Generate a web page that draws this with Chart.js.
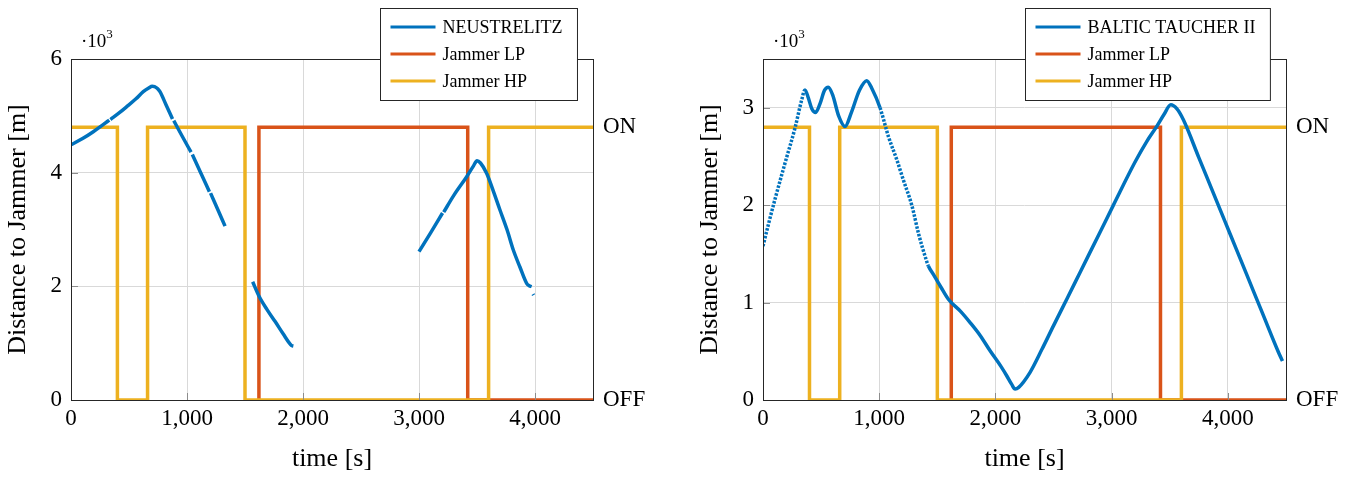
<!DOCTYPE html>
<html>
<head>
<meta charset="utf-8">
<title>Distance to Jammer</title>
<script src="https://cdn.jsdelivr.net/npm/chart.js@4.4.1/dist/chart.umd.min.js"></script>
<style>
  body { margin: 0; background: #fff; }
  canvas { position: absolute; top: 0; }
</style>
</head>
<body>
<canvas id="leftChart" width="680" height="477" style="left:0"></canvas>
<canvas id="rightChart" width="669" height="477" style="left:680px"></canvas>
<script>
// ===== DATA =====
const timeTicks = [0, 1000, 2000, 3000, 4000];
const leftYTicks = [0, 2000, 4000, 6000];
const rightYTicks = [0, 1000, 2000, 3000];

// jammer switching, 1 = ON, 0 = OFF
const hpTime  = [0, 400, 400, 660, 660, 1500, 1500, 3600, 3600, 4500];
const hpState = [1, 1, 0, 0, 1, 1, 0, 0, 1, 1];
const lpTime  = [1620, 1620, 3420, 3420, 4500];
const lpState = [0, 1, 1, 0, 0];

// NEUSTRELITZ (null = no fix)
const neuTime = [0, 100, 192, 280, 330, 335, 340, 420, 480, 560, 623, 670, 700, 720, 745, 767, 820, 875, 880,
  886, 960, 1035, 1040, 1046, 1120, 1193, 1198, 1203, 1270, 1328, 1400,
  1566, 1620, 1690, 1760, 1830, 1895, 1905, 1917, 2500,
  3000, 3100, 3203, 3208, 3213, 3300, 3411, 3470, 3500, 3530, 3583, 3640, 3698, 3760, 3813, 3870, 3928, 3950, 3971, 3978,
  3983, 3988];
const neuDist = [4490, 4600, 4721, 4850, 4925, null, 4935, 5060, 5161, 5300, 5425, 5490, 5520, 5515, 5480, 5425, 5190, 4945, null,
  4915, 4636, 4360, null, 4320, 3990, 3665, null, 3640, 3330, 3060, null,
  2080, 1830, 1590, 1380, 1160, 970, 955, 950, null,
  2610, 2940, 3290, null, 3305, 3600, 3929, 4120, 4210, 4170, 3989, 3680, 3343, 2990, 2639, 2340, 2053, 2010, 1994, null,
  1862, 1845];
const neuOn = 4800;

// BALTIC TAUCHER II
const baltTime = [0, 46, 103, 189, 275, 333, 361, 390, 420, 453, 490, 530, 562, 600, 650, 706, 760, 830, 892, 940,
  1007, 1079, 1150, 1210, 1280, 1340, 1394, 1423, 1466, 1530, 1595, 1700, 1782, 1870, 1954, 2050, 2097, 2140, 2169,
  2200, 2298, 2400, 2499, 2620, 2731, 2903, 3015, 3200, 3300, 3388, 3450, 3509, 3560, 3617, 3750, 3876, 4020, 4164, 4300,
  4436, 4470];
const baltDist = [1579, 1800, 2060, 2430, 2790, 3081, 3183, 3100, 2990, 2951, 3040, 3180, 3211, 3130, 2920, 2808, 2950, 3180, 3278, 3190,
  3000, 2705, 2470, 2250, 2000, 1700, 1477, 1375, 1290, 1160, 1034, 910, 795, 660, 505, 340, 249, 160, 113,
  130, 284, 520, 761, 1050, 1317, 1730, 2000, 2440, 2650, 2808, 2930, 3030, 2990, 2876, 2488, 2121, 1701, 1281, 884,
  488, 400];
const baltOn = 2800;

// ===== STYLE =====
const BLUE = "#0072BD", RED = "#D95319", YELLOW = "#EDB120";
const serif = '"Liberation Serif", "Times New Roman", serif';
const tickFont = { family: serif, size: 23 };
const titleFont = { family: serif, size: 26 };
const gridColor = "#d9d9d9";

Chart.defaults.color = "#000";
Chart.defaults.font.family = serif;

// ===== HELPERS =====
function toPoints(times, vals, scale) {
  return times.map((t, i) => ({ x: t, y: vals[i] === null ? null : vals[i] * (scale || 1) }));
}

// box, inner ticks, ·10^3 and boxed legend
const framePlugin = {
  id: "frame",
  afterDraw(chart) {
    const { ctx, chartArea: a } = chart;
    ctx.save();

    // inner tick marks
    ctx.strokeStyle = "#8c8c8c";
    ctx.lineWidth = 1;
    chart.scales.x.ticks.forEach(t => {
      const px = Math.round(chart.scales.x.getPixelForValue(t.value)) + 0.5;
      ctx.beginPath(); ctx.moveTo(px, a.bottom); ctx.lineTo(px, a.bottom - 7); ctx.stroke();
    });
    chart.scales.y.ticks.forEach(t => {
      const py = Math.round(chart.scales.y.getPixelForValue(t.value)) + 0.5;
      ctx.beginPath(); ctx.moveTo(a.left, py); ctx.lineTo(a.left + 7, py); ctx.stroke();
    });

    ctx.strokeStyle = "#262626";
    ctx.strokeRect(Math.round(a.left) + 0.5, Math.round(a.top) + 0.5,
      Math.round(a.right - a.left), Math.round(a.bottom - a.top));

    // multiplier
    ctx.fillStyle = "#000";
    ctx.textBaseline = "alphabetic";
    ctx.font = "19px " + serif;
    ctx.fillText("\u00b710", a.left + 10, 47);
    const mw = ctx.measureText("\u00b710").width;
    ctx.font = "13px " + serif;
    ctx.fillText("3", a.left + 10 + mw, 38);

    // legend
    const items = chart.data.datasets.map(d => ({ label: d.label, color: d.borderColor }));
    ctx.font = "18px " + serif;
    const tw = Math.max(...items.map(it => ctx.measureText(it.label).width));
    const w = 62 + tw + 15;
    const x0 = Math.round(a.right - 16 - w) + 0.5;
    const y0 = 8.5, h = 92;
    ctx.fillStyle = "#fff";
    ctx.fillRect(x0, y0, w, h);
    ctx.strokeStyle = "#262626";
    ctx.strokeRect(x0, y0, w, h);
    ctx.textBaseline = "middle";
    items.forEach((it, i) => {
      const y = 27 + i * 27;
      ctx.strokeStyle = it.color;
      ctx.lineWidth = 3;
      ctx.beginPath(); ctx.moveTo(x0 + 10, y); ctx.lineTo(x0 + 55, y); ctx.stroke();
      ctx.fillStyle = "#000";
      ctx.fillText(it.label, x0 + 62, y + 1);
    });
    ctx.restore();
  }
};

function makeChart(id, cfg) {
  const blue = {
    label: cfg.label,
    data: toPoints(cfg.times, cfg.dists),
    borderColor: BLUE,
    borderWidth: 3.5,
    pointRadius: 0,
    cubicInterpolationMode: "monotone",
    spanGaps: false,
    order: 0
  };
  // sparse samples look dotted
  if (cfg.dotted.length) {
    const dotted = x => cfg.dotted.some(r => x >= r[0] && x < r[1]);
    blue.segment = { borderDash: c => dotted(c.p0.parsed.x) ? [2.5, 1.5] : undefined };
  }

  return new Chart(document.getElementById(id), {
    type: "line",
    data: {
      datasets: [
        blue,
        {
          label: "Jammer LP",
          data: toPoints(lpTime, lpState, cfg.onLevel),
          borderColor: RED,
          borderWidth: 3.5,
          pointRadius: 0,
          order: 2
        },
        {
          label: "Jammer HP",
          data: toPoints(hpTime, hpState, cfg.onLevel),
          borderColor: YELLOW,
          borderWidth: 3.5,
          pointRadius: 0,
          order: 1
        }
      ]
    },
    options: {
      responsive: false,
      animation: false,
      layout: { padding: { top: 59, left: cfg.padLeft, right: 0, bottom: 0 } },
      plugins: { legend: { display: false }, tooltip: { enabled: false } },
      scales: {
        x: {
          type: "linear",
          min: 0,
          max: 4500,
          afterBuildTicks: s => { s.ticks = timeTicks.map(v => ({ value: v })); },
          ticks: { font: tickFont, padding: 5, maxRotation: 0, callback: v => v.toLocaleString("en-US") },
          grid: { color: gridColor, drawTicks: false },
          border: { display: false },
          title: { display: true, text: "time [s]", font: titleFont, padding: { top: 0, bottom: 2 } },
          afterFit: s => { s.height = 77; }
        },
        y: {
          min: 0,
          max: cfg.yMax,
          afterBuildTicks: s => { s.ticks = cfg.yTicks.map(v => ({ value: v })); },
          ticks: { font: tickFont, padding: 9, callback: v => v / 1000 },
          grid: { color: gridColor, drawTicks: false },
          border: { display: false },
          title: { display: true, text: "Distance to Jammer [m]", font: titleFont, padding: { top: 3, bottom: 0 } },
          afterFit: s => { s.width = 71; }
        },
        y2: {
          position: "right",
          min: 0,
          max: cfg.yMax,
          afterBuildTicks: s => { s.ticks = [{ value: 0 }, { value: cfg.onLevel }]; },
          ticks: { font: tickFont, padding: 10, callback: v => (v === 0 ? "OFF" : "ON") },
          grid: { display: false, drawTicks: false },
          border: { display: false },
          afterFit: s => { s.width = cfg.rightWidth; }
        }
      }
    },
    plugins: [framePlugin]
  });
}

// ===== CHARTS =====
makeChart("leftChart", {
  label: "NEUSTRELITZ",
  times: neuTime,
  dists: neuDist,
  onLevel: neuOn,
  yMax: 6000,
  yTicks: leftYTicks,
  padLeft: 0,
  rightWidth: 87,
  dotted: []
});

makeChart("rightChart", {
  label: "BALTIC TAUCHER II",
  times: baltTime,
  dists: baltDist,
  onLevel: baltOn,
  yMax: 3500,
  yTicks: rightYTicks,
  padLeft: 12,
  rightWidth: 63,
  dotted: [[0, 340], [990, 1400]]
});
</script>
</body>
</html>
